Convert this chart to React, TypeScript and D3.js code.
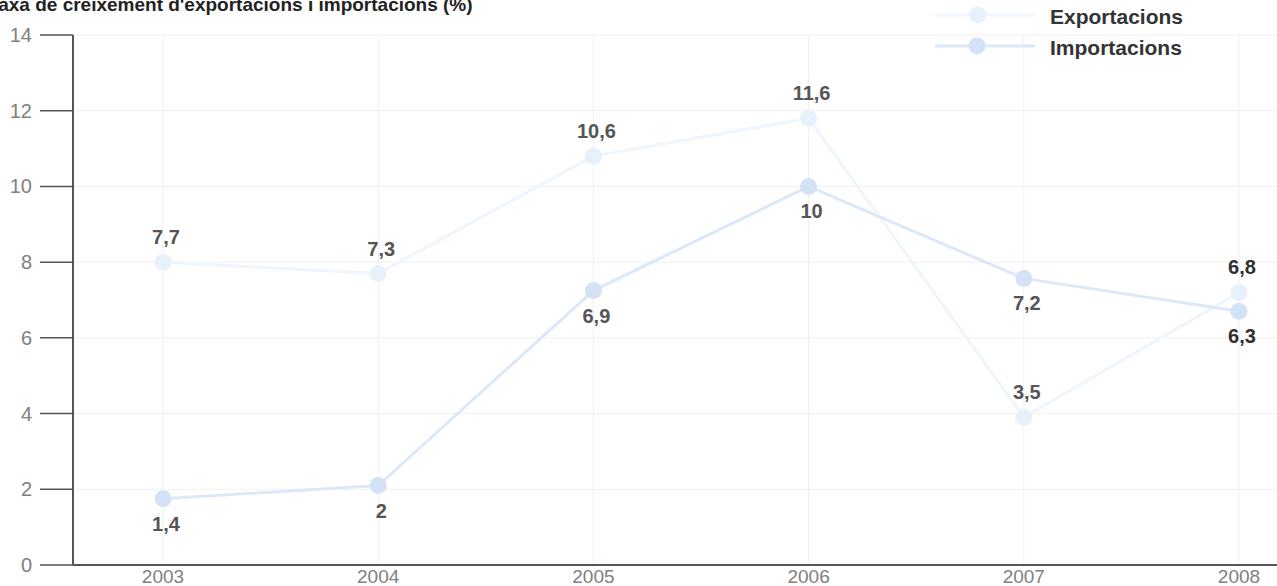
import React from "react";
import * as d3 from "d3";

const years = [2003, 2004, 2005, 2006, 2007, 2008];
const exportValues = [8.0, 7.7, 10.8, 11.8, 3.9, 7.2];
const importValues = [1.75, 2.1, 7.25, 10.0, 7.57, 6.7];
const exportLabels = ["7,7", "7,3", "10,6", "11,6", "3,5", "6,8"];
const importLabels = ["1,4", "2", "6,9", "10", "7,2", "6,3"];
const yTicks = [0, 2, 4, 6, 8, 10, 12, 14];
const seriesNames = ["Exportacions", "Importacions"];
const title = "Taxa de creixement d'exportacions i importacions (%)";

const W = 1277;
const H = 586;

export default function App() {
  const x = d3.scaleLinear().domain([2003, 2008]).range([163, 1239]);
  const y = d3.scaleLinear().domain([0, 14]).range([565, 35]);
  const line = d3
    .line<number>()
    .x((_, i) => x(years[i]))
    .y((d) => y(d));

  const expLine = "#eef5fc";
  const expDot = "#e7f1fb";
  const impLine = "#dce8f7";
  const impDot = "#d4e2f5";
  const font = "'Liberation Sans', Arial, Helvetica, sans-serif";

  return (
    <svg
      width={W}
      height={H}
      style={{ position: "absolute", left: 0, top: 0, background: "#fff" }}
      fontFamily={font}
    >
      <rect width={W} height={H} fill="#fff" />
      {/* grid */}
      {yTicks.map((t) => (
        <line key={"gy" + t} x1={73} x2={W} y1={y(t)} y2={y(t)} stroke="#f0f0f0" strokeWidth={1} />
      ))}
      {years.map((yr) => (
        <line key={"gx" + yr} x1={x(yr)} x2={x(yr)} y1={y(14)} y2={y(0)} stroke="#f0f0f0" strokeWidth={1} />
      ))}
      {/* axes */}
      <line x1={73} x2={73} y1={y(14)} y2={y(0)} stroke="#555" strokeWidth={2} />
      <line x1={73} x2={W} y1={y(0)} y2={y(0)} stroke="#555" strokeWidth={2} />
      {yTicks.map((t) => (
        <g key={"yt" + t}>
          <line x1={40} x2={73} y1={y(t)} y2={y(t)} stroke="#555" strokeWidth={1.5} />
          <text x={32} y={y(t)} dy="0.35em" textAnchor="end" fontSize={20} fill="#808080">
            {t}
          </text>
        </g>
      ))}
      {years.map((yr) => (
        <text key={"xt" + yr} x={x(yr)} y={583} textAnchor="middle" fontSize={19} fill="#808080">
          {yr}
        </text>
      ))}
      {/* series */}
      <path d={line(exportValues) || ""} fill="none" stroke={expLine} strokeWidth={3} />
      {exportValues.map((v, i) => (
        <circle key={"ed" + i} cx={x(years[i])} cy={y(v)} r={8.5} fill={expDot} />
      ))}
      <path d={line(importValues) || ""} fill="none" stroke={impLine} strokeWidth={3} />
      {importValues.map((v, i) => (
        <circle key={"id" + i} cx={x(years[i])} cy={y(v)} r={8.5} fill={impDot} />
      ))}
      {/* labels */}
      {exportValues.map((v, i) => (
        <text
          key={"el" + i}
          x={x(years[i]) + 3}
          y={y(v) - 18}
          textAnchor="middle"
          fontSize={20}
          fontWeight="bold"
          fill={i === years.length - 1 ? "#2f2f2f" : "#555"}
        >
          {exportLabels[i]}
        </text>
      ))}
      {importValues.map((v, i) => (
        <text
          key={"il" + i}
          x={x(years[i]) + 3}
          y={y(v) + 32}
          textAnchor="middle"
          fontSize={20}
          fontWeight="bold"
          fill={i === years.length - 1 ? "#2f2f2f" : "#555"}
        >
          {importLabels[i]}
        </text>
      ))}
      {/* legend */}
      <line x1={935} x2={1035} y1={15} y2={15} stroke={expLine} strokeWidth={3} />
      <circle cx={978} cy={15} r={8.5} fill={expDot} />
      <text x={1050} y={24} fontSize={21} fontWeight="bold" fill="#333">
        {seriesNames[0]}
      </text>
      <line x1={935} x2={1035} y1={46} y2={46} stroke={impLine} strokeWidth={3} />
      <circle cx={977} cy={46} r={8.5} fill={impDot} />
      <text x={1050} y={55} fontSize={21} fontWeight="bold" fill="#333">
        {seriesNames[1]}
      </text>
      {/* title */}
      <text x={-12} y={11} fontSize={19} fontWeight="bold" fill="#222">
        {title}
      </text>
    </svg>
  );
}
